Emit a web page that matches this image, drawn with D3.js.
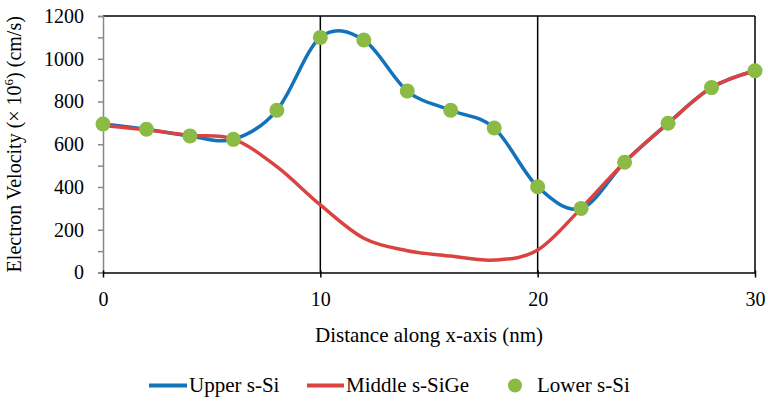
<!DOCTYPE html>
<html><head><meta charset="utf-8">
<script src="https://cdn.jsdelivr.net/npm/d3@7"></script>
<style>html,body{margin:0;padding:0;background:#fff;}svg{display:block;}</style>
</head><body>
<svg id="chart" width="768" height="401"></svg>
<script>
const xValues = [0,2,4,6,8,10,12,14,16,18,20,22,24,26,28,30];
const upperSSi = [695,670,639,623,759,1100,1088,849,759,676,401,300,516,698,865,944];
const middleSSiGe = [688,668,642,624,495,316,160,102,77,58,105,300,516,698,865,944];
const lowerSSi = [695,670,639,623,759,1100,1088,849,759,676,401,300,516,698,865,944];
const xTicks = [0,10,20,30];
const yTicks = [0,100,200,300,400,500,600,700,800,900,1000,1100,1200];
const seriesNames = ["Upper s-Si","Middle s-SiGe","Lower s-Si"];

(function(){
const svg = d3.select("#chart");
const FONT = '"Liberation Serif", "Times New Roman", Tinos';
const pl = 103, pr = 755, pt = 16, pb = 272.5;
const x = d3.scaleLinear().domain([0,30]).range([pl,pr]);
const y = d3.scaleLinear().domain([0,1200]).range([pb,pt]);
const blue = "#1272BA", red = "#DA433F", green = "#8BBA45";

svg.append("g").selectAll("line").data([10,20]).join("line")
  .attr("x1", d=>x(d)).attr("x2", d=>x(d)).attr("y1", y(0)).attr("y2", y(1200))
  .attr("stroke","#000").attr("stroke-width",1.5);
svg.append("line").attr("x1",x(0)).attr("x2",x(30)).attr("y1",y(1200)).attr("y2",y(1200)).attr("stroke","#000").attr("stroke-width",1.5);
svg.append("line").attr("x1",x(30)).attr("x2",x(30)).attr("y1",y(0)).attr("y2",y(1200)).attr("stroke","#000").attr("stroke-width",1.5);

const yAxis = svg.append("g").attr("transform",`translate(${pl},0)`)
  .call(d3.axisLeft(y).tickValues(yTicks).tickSize(5).tickPadding(14)
    .tickFormat(d => d % 200 === 0 ? d : ""));
yAxis.attr("font-family",FONT).attr("font-size",20);
yAxis.select(".domain").attr("stroke","#888").attr("stroke-width",1.5);
yAxis.selectAll(".tick line").attr("stroke","#888").attr("stroke-width",1.5);
yAxis.selectAll("text").attr("fill","#000").attr("font-family",FONT);

const xAxis = svg.append("g").attr("transform",`translate(0,${pb})`)
  .call(d3.axisBottom(x).tickValues(xTicks).tickSize(5).tickPadding(14).tickSizeOuter(0));
xAxis.attr("font-family",FONT).attr("font-size",20);
xAxis.select(".domain").attr("stroke","#000").attr("stroke-width",1.5);
xAxis.selectAll(".tick line").attr("stroke","#000").attr("stroke-width",1.5).attr("y1",-2);
xAxis.selectAll("text").attr("fill","#000").attr("font-family",FONT);

const line = d3.line().x((d,i)=>x(xValues[i])).y(d=>y(d)).curve(d3.curveCardinal.tension(0));
svg.append("path").datum(upperSSi).attr("d",line).attr("fill","none").attr("stroke",blue).attr("stroke-width",3.5);
svg.append("path").datum(middleSSiGe).attr("d",line).attr("fill","none").attr("stroke",red).attr("stroke-width",3.5);
svg.append("g").selectAll("circle").data(lowerSSi).join("circle")
  .attr("cx",(d,i)=>x(xValues[i])).attr("cy",d=>y(d)).attr("r",7.5).attr("fill",green);

svg.append("text").attr("x",(pl+pr)/2).attr("y",341.5).attr("text-anchor","middle")
  .attr("font-family",FONT).attr("font-size",21).text("Distance along x-axis (nm)");
const yt = svg.append("text").attr("transform",`translate(21,${(pt+pb)/2}) rotate(-90)`)
  .attr("text-anchor","middle").attr("font-family",FONT).attr("font-size",20);
yt.append("tspan").text("Electron Velocity (× 10");
yt.append("tspan").attr("dy",-8).attr("font-size",13).text("6");
yt.append("tspan").attr("dy",8).text(") (cm/s)");

const lg = svg.append("g");
lg.append("line").attr("x1",149).attr("x2",187).attr("y1",385.5).attr("y2",385.5).attr("stroke",blue).attr("stroke-width",4);
lg.append("line").attr("x1",307).attr("x2",344).attr("y1",385.5).attr("y2",385.5).attr("stroke",red).attr("stroke-width",4);
lg.append("circle").attr("cx",515).attr("cy",385.5).attr("r",7).attr("fill",green);
lg.selectAll("text").data(seriesNames).join("text")
  .attr("x",(d,i)=>[189,346,537][i]).attr("y",392)
  .attr("font-family",FONT).attr("font-size",21).text(d=>d);
})();
</script>
</body></html>
